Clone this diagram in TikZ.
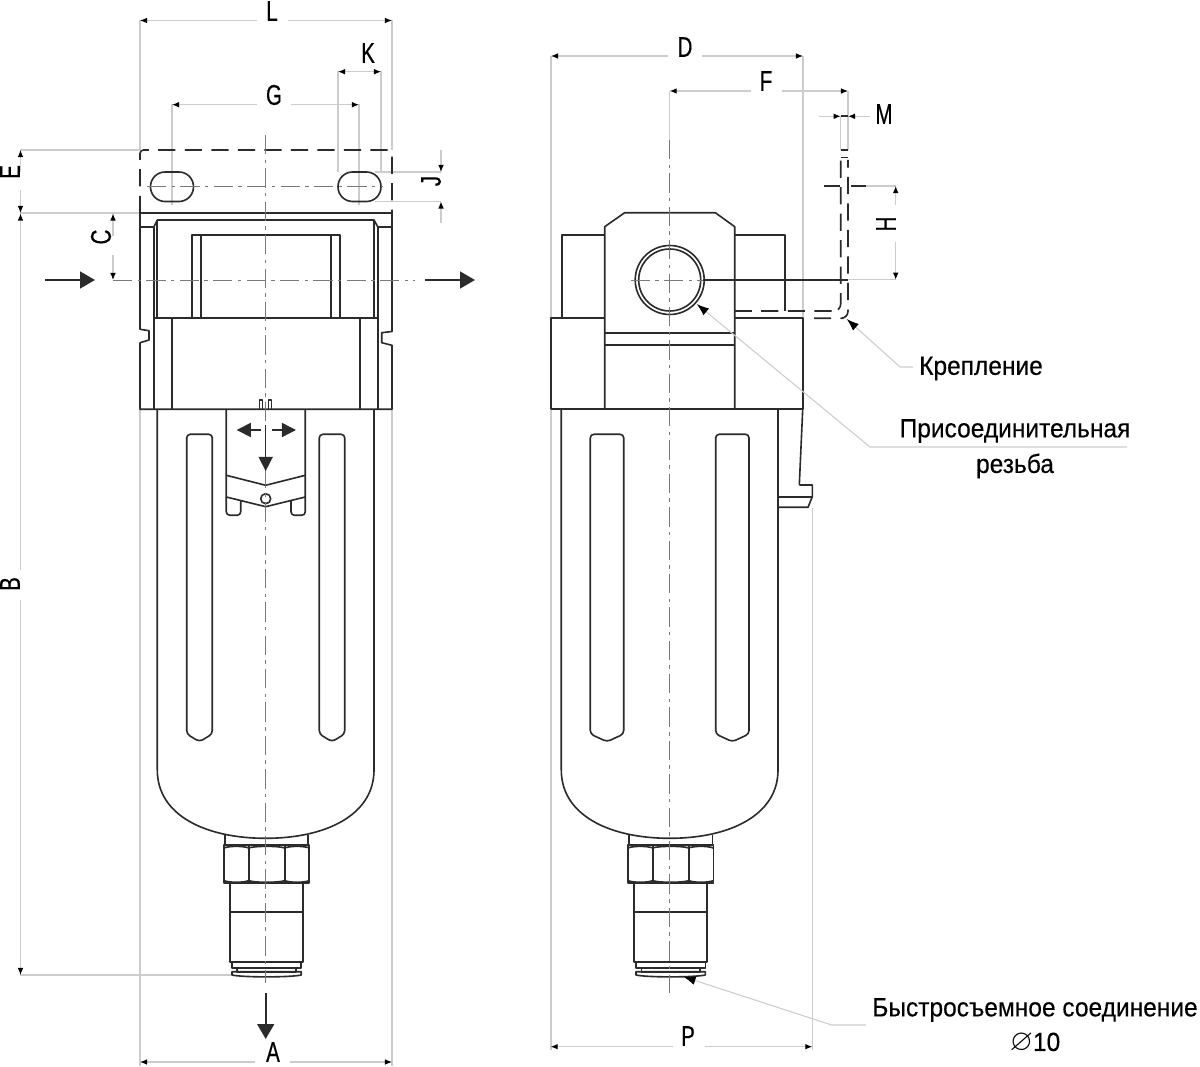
\documentclass[tikz,border=0pt]{standalone}
\usepackage{fontspec}
\usepackage{amssymb}
\setmainfont{Liberation Sans}
\newfontfamily\dimfont{Liberation Sans}[FakeStretch=0.72,FakeBold=0.4]
\newfontfamily\notefont{Liberation Sans}[FakeStretch=0.93,FakeBold=0.3]
\usetikzlibrary{arrows.meta}
\definecolor{extgray}{HTML}{CCCCCC}
\definecolor{axisgray}{HTML}{7A7A7A}
\definecolor{inkdark}{HTML}{2B2B2B}
\tikzstyle{body} = [line width=0.92pt, draw=inkdark, line join=round]
\tikzstyle{hidden} = [body, dash pattern=on 9.8pt off 5.3pt]
\tikzstyle{axis} = [line width=0.55pt, draw=axisgray, dash pattern=on 11pt off 3pt on 2pt off 3pt]
\tikzstyle{ext} = [line width=0.6pt, draw=extgray]
\tikzstyle{dimarrow} = [ext, -{Latex[length=4pt,width=3.2pt,black]}]
\tikzstyle{leader} = [ext, -{Latex[length=7pt,width=5pt,black]}]
\tikzstyle{flow} = [line width=1.3pt, draw=inkdark, -{Triangle[length=8.5pt,width=9.5pt,inkdark]}]
\tikzstyle{move} = [line width=0.85pt, draw=inkdark, -{Triangle[length=8pt,width=8pt,inkdark]}]
\tikzstyle{dimlabel} = [inner sep=0pt, font=\dimfont\fontsize{16.2}{16.2}\selectfont, text=black]
\tikzstyle{notelabel} = [inner sep=0pt, font=\notefont\fontsize{15}{15}\selectfont, text=black]
\begin{document}
\begin{tikzpicture}[x=0.02cm,y=-0.02cm]
            \useasboundingbox (0,0) rectangle (1200,1067);

            % extension lines, front view
            \draw [ext] (140,20) -- (140,150);
            \draw [ext] (392,20) -- (392,150);
            \draw [ext] (140,410) -- (140,1066);
            \draw [ext] (392,410) -- (392,1066);
            \draw [ext] (338,71) -- (338,172);
            \draw [ext] (381,71) -- (381,172);
            \draw [ext] (172,104) -- (172,205);
            \draw [ext] (359,104) -- (359,205);
            \draw [ext] (20,150) -- (140,150);
            \draw [ext] (20,213) -- (140,213);
            \draw [ext] (375,172) -- (441,172);
            \draw [ext] (375,201.5) -- (441,201.5);
            \draw [ext] (20,975) -- (232,975);

            % extension lines, side view
            \draw [ext] (551,56) -- (551,318);
            \draw [ext] (551,410) -- (551,1050);
            \draw [ext] (803,56) -- (803,318);
            \draw [ext] (812.3,508) -- (812.3,1050);
            \draw [ext] (669.7,91) -- (669.7,140);
            \draw [ext] (848,91) -- (848,150);
            \draw [ext] (840.7,116) -- (840.7,150);
            \draw [ext] (865,186) -- (896,186);
            \draw [ext] (848,279.7) -- (896,279.7);

            % filter bowl and fitting, both views
            \foreach \dx in {0,404} {
            \begin{scope}[shift={(\dx,0)}]
            \draw [body] (157.3,409.5) -- (157.3,770) .. controls (157.3,815) and (205,838.3) .. (265.7,838.3) .. controls (326,838.3) and (374,815) .. (374,770) -- (374,409.5);
            \draw [body] (225.3,835) -- (225.3,845.3);
            \draw [body] (308.3,835) -- (308.3,845.3);
            \draw [body] (224,845.3) rectangle (309.3,883.3);
            \draw [body] (248.7,845.3) -- (248.7,883.3);
            \draw [body] (284.7,845.3) -- (284.7,883.3);
            \foreach \xa/\xb in {224/248.7,248.7/284.7,284.7/309.3} {
                \draw [body] (\xa,848) .. controls ({\xa+5},845.8) and ({\xb-5},845.8) .. (\xb,848);
                \draw [body] (\xa,880.6) .. controls ({\xa+5},882.8) and ({\xb-5},882.8) .. (\xb,880.6);
            }
            \draw [body] (230.3,883.3) rectangle (302.7,962.3);
            \draw [body] (230.3,911.7) -- (302.7,911.7);
            \draw [body] (232,962.3) rectangle (301.3,967.7);
            \draw [body] (237.3,967.7) rectangle (295.7,971.7);
            \draw [body] (232,971.7) -- (301.3,971.7) -- (301.3,975) .. controls (290,977.5) and (243,977.5) .. (232,975) -- cycle;
            \end{scope}
            }

            % bowl windows
            \foreach \wl/\wr in {186.7/212.3,319.3/344.7,590.3/623.7,715.7/749} {
                \draw [body, rounded corners=2pt] (\wl,734) -- (\wl,434.3) -- (\wr,434.3) -- (\wr,734) -- ({(\wl+\wr)/2},741.7) -- cycle;
            }

            % front view, head
            \draw [body] (140,213) -- (392,213);
            \draw [body] (140,213) -- (140,329.3) -- (149,330.7) -- (149,340) -- (140,342.7) -- (140,409.3) -- (392,409.3) -- (392,345.3) -- (381.7,342.7) -- (381.7,332.7) -- (392,331.5) -- (392,213);
            \draw [body] (140,226.7) -- (154,226.7) -- (154,409.3);
            \draw [body] (392,226.7) -- (377.7,226.7) -- (377.7,409.3);
            \draw [body] (154,226.7) -- (157.3,220) -- (374,220) -- (377.7,226.7);
            \draw [body] (157.3,220) -- (157.3,318.3);
            \draw [body] (374,220) -- (374,318.3);
            \draw [body] (154,318.3) -- (377.7,318.3);
            \draw [body] (172.3,318.3) -- (172.3,409.3);
            \draw [body] (359.7,318.3) -- (359.7,409.3);
            \draw [body] (191.7,318.3) -- (191.7,234.7) -- (339.7,234.7) -- (339.7,318.3);
            \draw [body] (201,234.7) -- (201,318.3);
            \draw [body] (330.7,234.7) -- (330.7,318.3);
            \draw [body, line width=0.6pt] (259.7,409.3) -- (259.7,400) -- (262.7,400) -- (262.7,409.3);
            \draw [body, line width=0.6pt] (268.7,409.3) -- (268.7,400) -- (271.7,400) -- (271.7,409.3);

            % front view, mounting plate
            \draw [hidden, rounded corners=2pt] (140,213) -- (140,150) -- (392,150) -- (392,213);
            \draw [body, rounded corners=8.3pt] (150.5,172) rectangle (193.5,201.5);
            \draw [body, rounded corners=8.3pt] (338,172) rectangle (381,201.5);

            % front view, drain lever
            \draw [body] (226.3,409.3) -- (226.3,475.3) -- (265.7,485.3) -- (305.3,475.3) -- (305.3,409.3);
            \draw [body] (226.3,475.3) -- (226.3,497) -- (265.7,506.7) -- (305.3,497) -- (305.3,475.3);
            \draw [body, rounded corners=2pt] (226.3,497) -- (226.3,515.3) -- (240.7,515.3) -- (240.7,500.5);
            \draw [body, rounded corners=2pt] (305.3,497) -- (305.3,515.3) -- (291,515.3) -- (291,500.5);
            \draw [body] (265.7,498.7) circle (5);

            % side view, head
            \draw [body] (604.7,409.3) -- (604.7,226.7) -- (624.7,212.7) -- (715.3,212.7) -- (734.7,226.7) -- (734.7,409.3);
            \draw [body] (604.7,332.7) -- (734.7,332.7);
            \draw [body] (604.7,345.3) -- (734.7,345.3);
            \draw [body] (561.7,318.3) -- (561.7,234.7) -- (604.7,234.7);
            \draw [body] (734.7,234.7) -- (785,234.7) -- (785,311);
            \draw [body] (604.7,318.3) -- (550.7,318.3) -- (550.7,409.3) -- (802.7,409.3) -- (802.7,318.3) -- (734.7,318.3);
            \draw [body] (669.7,280) circle (34.5);
            \draw [body] (669.7,280) circle (31);
            \draw [body] (703,279.7) -- (848,279.7);
            \draw [body] (799.3,485) -- (802.7,409.3);
            \draw [body] (799.3,485) -- (812.3,485) -- (812.3,496.7) -- (808,507.3) -- (777.7,507.3);
            \draw [body] (777.7,496.7) -- (812.3,496.7);

            % side view, mounting plate
            \draw [hidden] (734.7,311) -- (835,311) [rounded corners=4pt] -- (840.7,311) -- (840.7,158);
            \draw [hidden] (814,318.3) -- (843,318.3) [rounded corners=4pt] -- (848,318.3) -- (848,160);
            \draw [body, line width=0.6pt] (840.7,157.3) -- (848,157.3);
            \draw [body, line width=0.6pt] (840.7,150) -- (848,150);
            \draw [body] (823.7,186) -- (840,186);
            \draw [body] (851,186) -- (865.7,186);

            % axes
            \draw [axis] (265.7,135) -- (265.7,983);
            \draw [axis] (669.7,140) -- (669.7,993);
            \draw [axis] (147,186.5) -- (383,186.5);
            \draw [axis] (113,280) -- (415,280);
            \draw [axis] (630.7,280) -- (703,280);

            % flow and lever arrows
            \draw [flow] (45,280) -- (95,280);
            \draw [flow] (425,280) -- (475,280);
            \draw [flow] (265.7,993) -- (265.7,1039);
            \draw [move] (265.7,425) -- (265.7,471);
            \draw [move] (261,430) -- (236.7,430);
            \draw [move] (271.7,430) -- (296,430);

            % dimensions
            \draw [dimarrow] (257,20.5) -- (140,20.5);
            \draw [dimarrow] (288,20.5) -- (392,20.5);
            \node [dimlabel] at (272,11) (labelL) {L};
            \draw [dimarrow] (360,71.7) -- (338,71.7);
            \draw [dimarrow] (360,71.7) -- (381,71.7);
            \node [dimlabel] at (368,53) (labelK) {K};
            \draw [dimarrow] (257,104.7) -- (172,104.7);
            \draw [dimarrow] (291,104.7) -- (359,104.7);
            \node [dimlabel] at (274,95) (labelG) {G};
            \draw [dimarrow] (20.5,172) -- (20.5,150);
            \draw [dimarrow] (20.5,190) -- (20.5,213);
            \node [dimlabel, rotate=90] at (10,172) (labelE) {E};
            \draw [dimarrow] (20.5,570) -- (20.5,213.5);
            \draw [dimarrow] (20.5,600) -- (20.5,975);
            \node [dimlabel, rotate=90] at (10,584) (labelB) {B};
            \draw [dimarrow] (113,236) -- (113,213.5);
            \draw [dimarrow] (113,255) -- (113,280);
            \node [dimlabel, rotate=90] at (101,237) (labelC) {C};
            \draw [dimarrow] (441,150) -- (441,172);
            \draw [dimarrow] (441,223) -- (441,201.5);
            \node [dimlabel, rotate=90] at (431,181) (labelJ) {J};
            \draw [dimarrow] (255,1062) -- (140,1062);
            \draw [dimarrow] (290,1062) -- (392,1062);
            \node [dimlabel] at (273,1052) (labelA) {A};
            \draw [dimarrow] (668,56) -- (551,56);
            \draw [dimarrow] (702,56) -- (803,56);
            \node [dimlabel] at (685,47) (labelD) {D};
            \draw [dimarrow] (751,91) -- (669.7,91);
            \draw [dimarrow] (782,91) -- (848,91);
            \node [dimlabel] at (766,81) (labelF) {F};
            \draw [dimarrow] (818.7,116.3) -- (840.7,116.3);
            \draw [dimarrow] (870,116.3) -- (848,116.3);
            \draw [body] (840.7,116.3) -- (848,116.3);
            \node [dimlabel] at (884,114) (labelM) {M};
            \draw [dimarrow] (895.7,205) -- (895.7,186);
            \draw [dimarrow] (895.7,242) -- (895.7,279.7);
            \node [dimlabel, rotate=90] at (886,224) (labelH) {H};
            \draw [dimarrow] (673,1046.7) -- (550.7,1046.7);
            \draw [dimarrow] (705,1046.7) -- (812.3,1046.7);
            \node [dimlabel] at (688,1036) (labelP) {P};

            % notes
            \node [notelabel] at (981,368.5) (krep) {Крепление};
            \coordinate (krepEnd) at (913,367);
            \coordinate (krepTip) at (846.7,319);
            \draw [leader] (krepEnd) -- (900,367) -- (krepTip);
            \node [notelabel] at (1015,431) (thread) {Присоединительная};
            \node [notelabel] at (1015,466) (threadB) {резьба};
            \coordinate (threadEnd) at (1127,447);
            \coordinate (threadTip) at (696.7,304);
            \draw [leader] (threadEnd) -- (870,447) -- (threadTip);
            \node [notelabel] at (1035,1010) (quick) {Быстросъемное соединение};
            \node [notelabel] at (1035,1043) (quickB) {{\fontsize{17}{17}\selectfont$\varnothing$}10};
            \coordinate (quickEnd) at (866,1025);
            \coordinate (quickTip) at (683.3,976.7);
            \draw [leader] (quickEnd) -- (831.7,1025) -- (quickTip);
\end{tikzpicture}
\end{document}
